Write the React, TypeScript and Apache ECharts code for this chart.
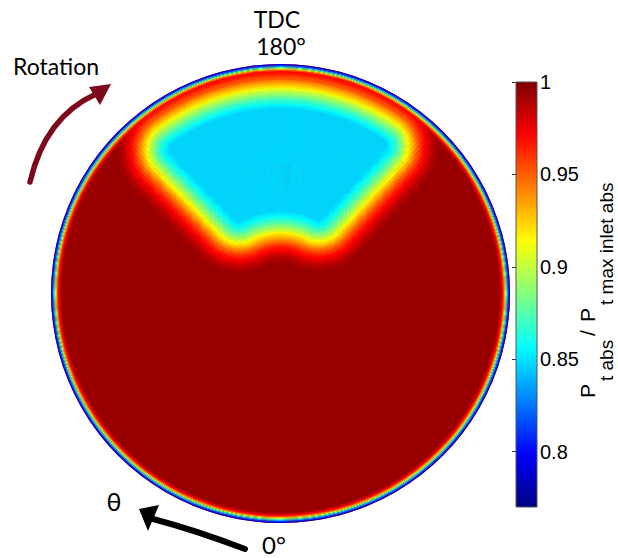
import React, { useEffect, useRef } from "react";
import * as echarts from "echarts";

// ---------- colour scale ----------
const CBAR_MIN = 0.77;
const CBAR_MAX = 1;
const cbarTicks = [0.8, 0.85, 0.9, 0.95, 1];
const jetColors = ["#000080", "#0000ff", "#0080ff", "#00ffff", "#80ff80", "#ffff00", "#ff8000", "#ff0000", "#800000"];
const JET_LEVELS = 64;

// ---------- disk (readings in px of the original picture) ----------
const DISK_R = 229.5;
const DISK_CENTER = [280.5, 293.5];

// ---------- field readings ----------
const baseValue = 0.994; // uniform interior
const coreCentre = 179; // angular centre of the low-pressure core (deg, TDC = 180)
const coreRadii = [88, 179]; // inner / outer radius of the core (px)
const coreHalfAngles = [27, 35.5]; // half width of the core (deg) at inner / outer radius
// value vs distance (px) from the core
const rampDistance = [0, 6, 11, 16, 21, 26, 31, 36, 41, 46, 51, 56];
const rampValue = [0.8475, 0.8485, 0.858, 0.872, 0.89, 0.91, 0.93, 0.95, 0.965, 0.977, 0.987, 0.994];
// value vs depth (px) below the wall
const rimDepth = [0, 1, 2, 3, 4, 5, 6, 7, 8, 9, 10];
const rimValue = [0.785, 0.8, 0.825, 0.855, 0.885, 0.915, 0.945, 0.965, 0.98, 0.99, 0.994];

function interp(xs: number[], ys: number[], x: number) {
  if (x <= xs[0]) return ys[0];
  for (let i = 1; i < xs.length; i++) {
    if (x <= xs[i]) {
      const t = (x - xs[i - 1]) / (xs[i] - xs[i - 1]);
      return ys[i - 1] + t * (ys[i] - ys[i - 1]);
    }
  }
  return ys[ys.length - 1];
}

function corePolygon() {
  const pts: number[][] = [];
  const [rIn, rOut] = coreRadii;
  const [hIn, hOut] = coreHalfAngles;
  const N = 30;
  for (let i = 0; i <= N; i++) {
    const a = ((-hOut + (2 * hOut * i) / N) * Math.PI) / 180;
    pts.push([rOut * Math.sin(a), rOut * Math.cos(a)]);
  }
  for (let i = 0; i <= N; i++) {
    const a = ((hIn - (2 * hIn * i) / N) * Math.PI) / 180;
    pts.push([rIn * Math.sin(a), rIn * Math.cos(a)]);
  }
  return pts;
}

function distToPoly(poly: number[][], x: number, y: number) {
  let inside = false;
  let best = Infinity;
  for (let i = 0, j = poly.length - 1; i < poly.length; j = i++) {
    const [xi, yi] = poly[i];
    const [xj, yj] = poly[j];
    if (yi > y !== yj > y && x < ((xj - xi) * (y - yi)) / (yj - yi) + xi) inside = !inside;
    const dx = xi - xj, dy = yi - yj;
    const L = dx * dx + dy * dy;
    let t = L > 0 ? ((x - xj) * dx + (y - yj) * dy) / L : 0;
    t = Math.max(0, Math.min(1, t));
    const px = xj + t * dx - x, py = yj + t * dy - y;
    const d = px * px + py * py;
    if (d < best) best = d;
  }
  return inside ? 0 : Math.sqrt(best);
}

const STEP = (CBAR_MAX - CBAR_MIN) / JET_LEVELS;
function quant(v: number) {
  const k = Math.max(0, Math.min(JET_LEVELS - 1, Math.floor((v - CBAR_MIN) / STEP)));
  return CBAR_MIN + (k + 0.5) * STEP;
}

function buildCells() {
  const poly = corePolygon();
  const qBase = quant(baseValue);
  const cells: number[][] = [[0, DISK_R, 0, 360, qBase]];
  const rows: number[][] = [];
  const rimStart = DISK_R - 11;
  for (let r = 0; r < rimStart; r += 2) rows.push([r, Math.min(r + 2, rimStart)]);
  for (let r = rimStart; r < DISK_R - 0.01; r += 1) rows.push([r, Math.min(r + 1, DISK_R)]);
  const dA = 1;
  for (const [r0, r1] of rows) {
    const rc = (r0 + r1) / 2;
    const rimV = interp(rimDepth, rimValue, DISK_R - rc);
    let runStart = -1;
    let runQ = 0;
    for (let a = 0; a <= 360; a += dA) {
      let q = qBase;
      if (a < 360) {
        const ac = ((a + dA / 2 - coreCentre) * Math.PI) / 180;
        const d = distToPoly(poly, rc * Math.sin(ac), rc * Math.cos(ac));
        const v = Math.min(interp(rampDistance, rampValue, d), rimV);
        q = quant(v);
      }
      if (runStart >= 0 && (q !== runQ || a === 360)) {
        cells.push([r0, r1, runStart, a, runQ]);
        runStart = -1;
      }
      if (a < 360 && q < qBase && runStart < 0) {
        runStart = a;
        runQ = q;
      }
    }
  }
  return cells;
}

const labelFont = "Lato, 'Open Sans', sans-serif";

export default function App() {
  const ref = useRef<HTMLDivElement>(null);
  useEffect(() => {
    const chart = echarts.init(ref.current!, null, { renderer: "svg" });
    const cells = buildCells();
    const gradStops = jetColors.map((c, i) => ({ offset: i / (jetColors.length - 1), color: c }));
    const option: any = {
      animation: false,
      backgroundColor: "#ffffff",
      polar: { center: DISK_CENTER, radius: DISK_R },
      radiusAxis: { min: 0, max: DISK_R, show: false },
      angleAxis: { min: 0, max: 360, startAngle: 270, clockwise: true, show: false },
      grid: { left: 516, top: 82, width: 21, height: 425, containLabel: false },
      xAxis: { type: "value", min: 0, max: 1, show: false },
      yAxis: [
        {
          type: "value",
          min: CBAR_MIN,
          max: CBAR_MAX,
          position: "right",
          axisLine: { show: false },
          splitLine: { show: false },
          axisTick: { show: true, inside: true, length: 4, customValues: cbarTicks, lineStyle: { color: "#333" } },
          axisLabel: {
            customValues: cbarTicks,
            margin: 3,
            fontSize: 20,
            fontFamily: "'Liberation Sans', Arial, sans-serif",
            color: "#000",
            formatter: (v: number) => String(+v.toFixed(2)),
          },
        },
        {
          type: "value",
          min: CBAR_MIN,
          max: CBAR_MAX,
          position: "left",
          axisLine: { show: false },
          splitLine: { show: false },
          axisTick: { show: true, inside: true, length: 4, customValues: cbarTicks, lineStyle: { color: "#333" } },
          axisLabel: { show: false },
        },
      ],
      visualMap: {
        type: "continuous",
        show: false,
        min: CBAR_MIN,
        max: CBAR_MAX,
        dimension: 4,
        seriesIndex: 0,
        inRange: { color: jetColors },
      },
      series: [
        {
          type: "custom",
          coordinateSystem: "polar",
          silent: true,
          progressive: 0,
          dimensions: ["r0", "r1", "a0", "a1", "v"],
          encode: { radius: 0, angle: 2 },
          data: cells,
          renderItem: (params: any, api: any) => {
            const cs = params.coordSys;
            const cx = cs.cx, cy = cs.cy;
            const r0 = api.value(0), r1 = api.value(1), a0 = api.value(2), a1 = api.value(3);
            const pa = api.coord([r1, a0]);
            const pb = api.coord([r0, a0]);
            const outer = Math.hypot(pa[0] - cx, pa[1] - cy);
            const inner = Math.hypot(pb[0] - cx, pb[1] - cy);
            const start = Math.atan2(pa[1] - cy, pa[0] - cx);
            const end = start + ((a1 - a0) * Math.PI) / 180;
            const col = api.visual("color");
            const full = a1 - a0 >= 360;
            return {
              type: "sector",
              shape: { cx, cy, r0: inner, r: outer, startAngle: start, endAngle: end, clockwise: true },
              style: { fill: col, stroke: full ? null : col, lineWidth: 0.8 },
            };
          },
        },
        {
          type: "custom",
          coordinateSystem: "cartesian2d",
          xAxisIndex: 0,
          yAxisIndex: 0,
          silent: true,
          data: [[0, 1, CBAR_MIN, CBAR_MAX]],
          encode: { x: [0, 1], y: [2, 3] },
          renderItem: (params: any, api: any) => {
            const p0 = api.coord([api.value(0), api.value(3)]);
            const p1 = api.coord([api.value(1), api.value(2)]);
            return {
              type: "rect",
              shape: { x: p0[0], y: p0[1], width: p1[0] - p0[0], height: p1[1] - p0[1] },
              style: {
                fill: new echarts.graphic.LinearGradient(0, 1, 0, 0, gradStops),
                stroke: "#555",
                lineWidth: 1,
              },
            };
          },
        },
      ],
      graphic: [
        { type: "text", x: 277, y: 19, style: { text: "TDC", font: `23px ${labelFont}`, fill: "#000", align: "center", verticalAlign: "middle" } },
        { type: "text", x: 281, y: 46, style: { text: "180°", font: `23px ${labelFont}`, fill: "#000", align: "center", verticalAlign: "middle" } },
        { type: "text", x: 13, y: 66, style: { text: "Rotation", font: `23px ${labelFont}`, fill: "#000", align: "left", verticalAlign: "middle" } },
        { type: "text", x: 114, y: 501, style: { text: "θ", font: `25px ${labelFont}`, fill: "#000", align: "center", verticalAlign: "middle" } },
        { type: "text", x: 262, y: 544, style: { text: "0°", font: `24px ${labelFont}`, fill: "#000", align: "left", verticalAlign: "middle" } },
        {
          type: "bezierCurve",
          shape: { x1: 30, y1: 182, cpx1: 45, cpy1: 117, x2: 96, y2: 94 },
          style: { stroke: "#7d0a1c", lineWidth: 5.5, fill: null, lineCap: "round" },
        },
        { type: "polygon", shape: { points: [[111, 84], [89, 87], [100, 105]] }, style: { fill: "#7d0a1c" } },
        {
          type: "bezierCurve",
          shape: { x1: 245, y1: 549, cpx1: 195, cpy1: 530, x2: 153, y2: 519 },
          style: { stroke: "#000", lineWidth: 6, fill: null, lineCap: "round" },
        },
        { type: "polygon", shape: { points: [[139, 509], [159, 505], [148, 531]] }, style: { fill: "#000" } },
        {
          type: "group",
          x: 587,
          y: 398,
          rotation: Math.PI / 2,
          children: [
            { type: "text", x: 0, y: 0, style: { text: "P", font: "21px 'Liberation Sans', Arial", fill: "#000", align: "left", verticalAlign: "middle" } },
            { type: "text", x: 17, y: 19, style: { text: "t abs", font: "19px 'Liberation Sans', Arial", fill: "#000", align: "left", verticalAlign: "middle" } },
            { type: "text", x: 62, y: 0, style: { text: "/", font: "21px 'Liberation Sans', Arial", fill: "#000", align: "left", verticalAlign: "middle" } },
            { type: "text", x: 76, y: 0, style: { text: "P", font: "21px 'Liberation Sans', Arial", fill: "#000", align: "left", verticalAlign: "middle" } },
            { type: "text", x: 93, y: 19, style: { text: "t max inlet abs", font: "19px 'Liberation Sans', Arial", fill: "#000", align: "left", verticalAlign: "middle" } },
          ],
        },
      ],
    };
    chart.setOption(option);
    return () => chart.dispose();
  }, []);
  return <div ref={ref} style={{ position: "absolute", left: 0, top: 0, width: 618, height: 558 }} />;
}
